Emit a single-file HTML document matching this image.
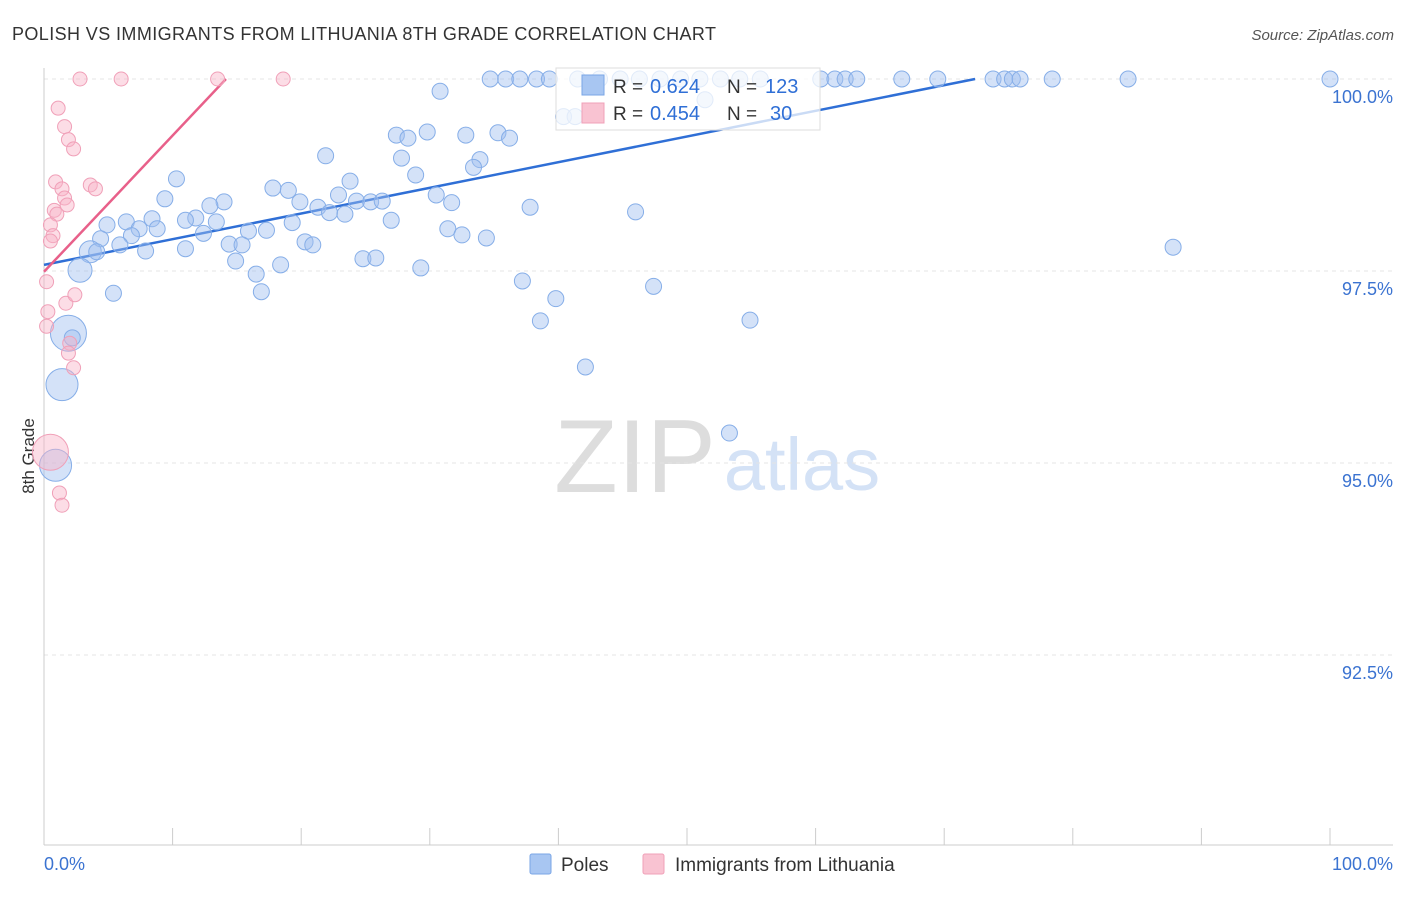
<!DOCTYPE html>
<html><head><meta charset="utf-8"><style>
body{margin:0;background:#fff;font-family:"Liberation Sans",sans-serif;}
svg text{font-family:"Liberation Sans",sans-serif;}
</style></head><body>
<svg id="c" width="1406" height="892">
<text x="12" y="40" font-size="18" fill="#333" textLength="704">POLISH VS IMMIGRANTS FROM LITHUANIA 8TH GRADE CORRELATION CHART</text>
<text x="1394" y="40" font-size="15" fill="#555" text-anchor="end" font-style="italic">Source: ZipAtlas.com</text>
<text x="34" y="456" font-size="17" fill="#333" text-anchor="middle" transform="rotate(-90 34 456)">8th Grade</text>
<g><text x="635" y="492" font-size="104" fill="#ddd" font-family="Liberation Serif" text-anchor="middle">ZIP</text><text x="802" y="490" font-size="74" fill="#d4e2f6" text-anchor="middle">atlas</text></g>
<g id="grid"></g><g id="axes"></g><g id="lines"></g><g id="pts"></g>
<g>
<rect x="556" y="68" width="264" height="62" fill="rgba(255,255,255,0.75)" stroke="#ddd"/>
<rect x="582" y="75" width="22" height="20" fill="#a8c6f2" stroke="#7aa6e6"/>
<rect x="582" y="103" width="22" height="20" fill="#f9c3d2" stroke="#f0a0b8"/>
<text x="613" y="93" font-size="19" fill="#333">R =</text><text x="650" y="93" font-size="20" fill="#2f6fd6">0.624</text>
<text x="727" y="93" font-size="19" fill="#333">N =</text><text x="765" y="93" font-size="20" fill="#2f6fd6">123</text>
<text x="613" y="120" font-size="19" fill="#333">R =</text><text x="650" y="120" font-size="20" fill="#2f6fd6">0.454</text>
<text x="727" y="120" font-size="19" fill="#333">N =</text><text x="770" y="120" font-size="20" fill="#2f6fd6">30</text>
</g>
<g>
<rect x="530" y="854" width="21" height="20" fill="#a8c6f2" stroke="#7aa6e6" rx="2"/>
<text x="561" y="871" font-size="19" fill="#333">Poles</text>
<rect x="643" y="854" width="21" height="20" fill="#f9c3d2" stroke="#f0a0b8" rx="2"/>
<text x="675" y="871" font-size="19" fill="#333">Immigrants from Lithuania</text>
</g>
</svg>
<script>
const yTicks=[100,97.5,95,92.5];
const yTickLabels=["100.0%","97.5%","95.0%","92.5%"];
const xLabels=["0.0%","100.0%"];
const blueX=[34.7,35.9,37.0,38.3,39.3,41.5,43.2,44.8,46.3,47.9,49.5,51.0,52.6,54.1,55.7,60.4,61.5,62.3,63.2,66.7,69.5,73.8,74.7,75.3,75.9,78.4,84.3,100,
30.8,40.4,41.3,51.4,27.4,28.3,29.8,32.8,35.3,36.2,33.9,33.4,21.9,27.8,28.9,10.3,9.4,17.8,19.0,23.8,22.9,19.9,21.3,22.2,23.4,24.3,25.4,26.3,30.5,31.7,37.8,46.0,14.0,12.9,11.8,11.0,13.4,8.4,6.4,4.9,7.4,8.8,12.4,15.9,17.3,19.3,27.0,31.4,32.5,34.4,4.4,6.8,5.9,14.4,15.4,20.3,20.9,3.6,4.1,7.9,11.0,14.9,16.5,18.4,24.8,25.8,29.3,2.8,5.4,16.9,37.2,39.8,47.4,38.6,54.9,42.1,87.8,1.9,2.2,1.4,0.9,53.3];
const blueY=[100,100,100,100,100,100,100,100,100,100,100,100,100,100,100,100,100,100,100,100,100,100,100,100,100,100,100,100,
99.84,99.51,99.51,99.73,99.27,99.23,99.31,99.27,99.30,99.23,98.95,98.85,99.0,98.97,98.75,98.70,98.44,98.58,98.55,98.67,98.49,98.40,98.33,98.26,98.24,98.41,98.40,98.41,98.49,98.39,98.33,98.27,98.40,98.35,98.19,98.16,98.14,98.18,98.14,98.10,98.05,98.05,97.99,98.02,98.03,98.13,98.16,98.05,97.97,97.93,97.92,97.96,97.84,97.85,97.84,97.88,97.84,97.75,97.75,97.76,97.79,97.63,97.46,97.58,97.66,97.67,97.54,97.51,97.21,97.23,97.37,97.14,97.30,96.85,96.86,96.25,97.81,96.69,96.63,96.02,94.97,95.39];
const blueBig={"97.51":12,"97.75":11,"96.69":18,"96.02":16,"94.97":16};
const pinkX=[2.8,6.0,13.5,18.6,1.1,1.6,1.9,2.3,0.9,1.4,3.6,4.0,1.6,1.8,0.8,1.0,0.5,0.7,0.5,0.2,1.7,2.4,0.3,0.2,2.0,1.9,2.3,0.5,1.2,1.4];
const pinkY=[100,100,100,100,99.62,99.38,99.21,99.09,98.66,98.57,98.62,98.57,98.45,98.36,98.29,98.24,98.10,97.96,97.89,97.36,97.08,97.19,96.97,96.78,96.56,96.43,96.24,95.14,94.61,94.45];
const pinkBig={"95.14":18};
const blueTrend=[[0,97.58],[72.4,100]];
const pinkTrend=[[0,97.49],[14.15,100]];
const NS="http://www.w3.org/2000/svg";
const X=v=>44+v*12.86, Y=v=>79+(100-v)*76.8;
function mk(t,a,p){const e=document.createElementNS(NS,t);for(const k in a)e.setAttribute(k,a[k]);p.appendChild(e);return e;}
const grid=document.getElementById('grid'),axes=document.getElementById('axes');
yTicks.forEach((t,i)=>{
 const l=mk('line',{x1:44,x2:1393,y1:Y(t),y2:Y(t),stroke:'#e4e4e4','stroke-dasharray':'4,4'},grid);
 
 
 const tx=mk('text',{x:1393,y:Y(t)+24,'font-size':18,fill:'#3b73d1','text-anchor':'end'},axes);
 tx.textContent=yTickLabels[i];
 
 
});
const ax=mk('line',{x1:44,x2:44,y1:68,y2:845,stroke:'#ccc'},axes);


const bx=mk('line',{x1:44,x2:1393,y1:845,y2:845,stroke:'#ccc'},axes);


for(let i=0;i<=10;i++){const t=mk('line',{x1:X(i*10),x2:X(i*10),y1:828,y2:845,stroke:'#ccc'},axes);
 
 }
[[0,'start',xLabels[0]],[100,'end',xLabels[1]]].forEach(([v,a,s])=>{
 const t=mk('text',{x:v==0?44:1393,y:870,'font-size':18,fill:'#3b73d1','text-anchor':a},axes);t.textContent=s;
 
 });
const pts=document.getElementById('pts');
blueX.forEach((x,i)=>{const y=blueY[i];const r=(x<4&&blueBig[y.toFixed(2)])||8;
 const c=mk('circle',{cx:X(x),cy:Y(y),r:r,fill:'rgba(160,190,240,0.45)',stroke:'#86aee8','stroke-width':1},pts);
 
 });
pinkX.forEach((x,i)=>{const y=pinkY[i];const r=pinkBig[y.toFixed(2)]||7;
 const c=mk('circle',{cx:X(x),cy:Y(y),r:r,fill:'rgba(248,180,200,0.45)',stroke:'#f0a0b8','stroke-width':1},pts);
 
 });
const lines=document.getElementById('lines');
const bl=mk('line',{x1:X(blueTrend[0][0]),y1:Y(blueTrend[0][1]),x2:X(blueTrend[1][0]),y2:Y(blueTrend[1][1]),stroke:'#2f6fd6','stroke-width':2.5},lines);


const pl=mk('line',{x1:X(pinkTrend[0][0]),y1:Y(pinkTrend[0][1]),x2:X(pinkTrend[1][0]),y2:Y(pinkTrend[1][1]),stroke:'#e8608a','stroke-width':2.5},lines);


</script>
</body></html>
